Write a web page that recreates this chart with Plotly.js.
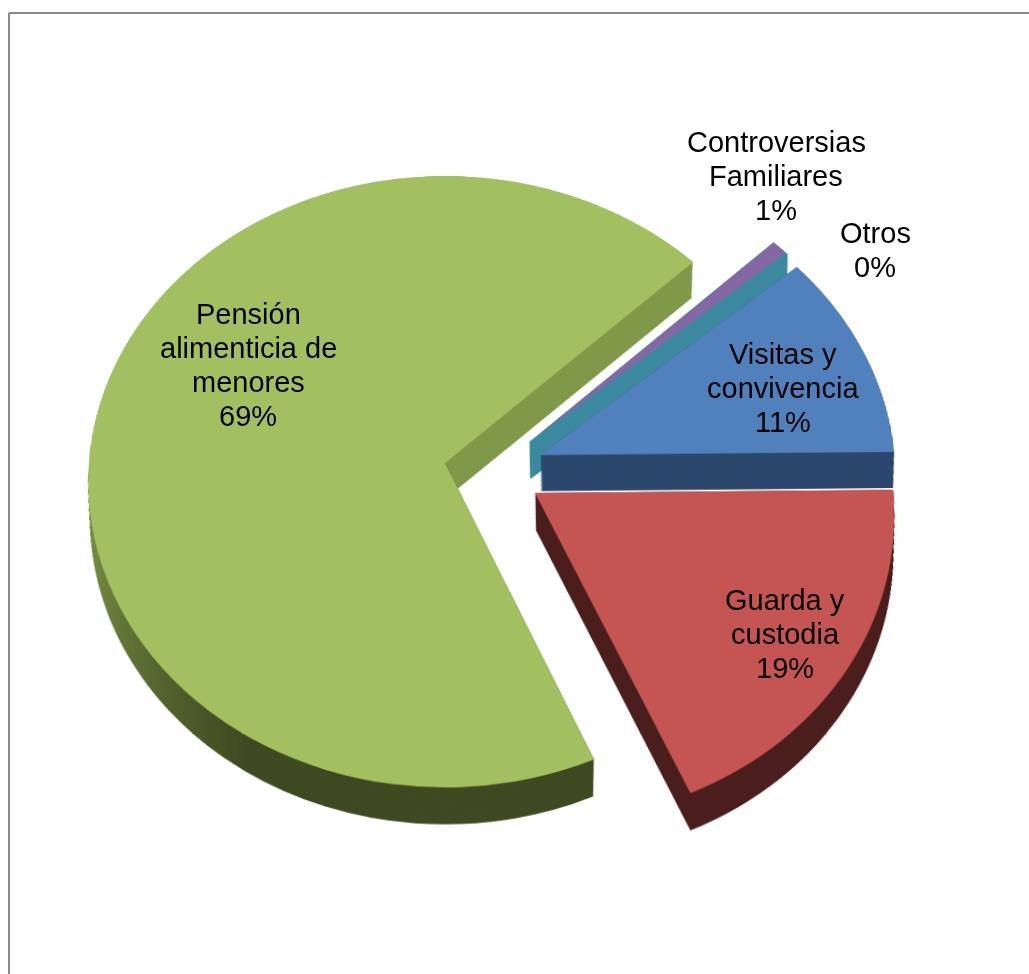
<!DOCTYPE html>
<html>
<head>
<meta charset="utf-8">
<script src="https://cdn.plot.ly/plotly-3.0.1.min.js"></script>
<style>
html,body{margin:0;padding:0;width:1029px;height:974px;overflow:hidden;background:#fff}
#stage{position:absolute;left:0;top:0;width:1029px;height:974px;overflow:hidden}
#pie{position:absolute;left:0;top:0}
#labels{position:absolute;left:0;top:0;pointer-events:none}
</style>
</head>
<body>
<div id="stage"><div id="pie"></div><div id="labels"></div></div>
<script>
// ---- data ----
var categories = ["Visitas y convivencia", "Guarda y custodia", "Pensión alimenticia de menores", "Controversias Familiares", "Otros"];
var values = [11, 18.7, 69.4, 0.8, 0.1];
var labelLines = [
  ["Visitas y", "convivencia", "11%"],
  ["Guarda y", "custodia", "19%"],
  ["Pensión", "alimenticia de", "menores", "69%"],
  ["Controversias", "Familiares", "1%"],
  ["Otros", "0%"]
];
// ---- styles / placement ----
var topColors  = ["#5181bd", "#c55552", "#a3c060", "#8467a4", "#3d8aa2"];
var wallColors = ["#2c486d", "#4c1f1f", "#3f4a22", "#3c8aa0", "#3c8aa0"];
var wallStroke = [0, 0, 0, 1.2, 1.2];
var apexX = [540, 535, 445, 530, 530];
var apexY = [455, 493, 463, 442, 442];
var radius = [355, 356, 356, 356, 356];
var labelX = [783, 785, 248, 776, 875];
var labelY = [354, 600, 314, 142, 233];
var drawOrder = [2, 3, 4, 0, 1];
var startAngle = 49.8;
var W = 1029, H = 1300, originX = 445, originY = 463;
var D = 3006, tilt = 31.2 * Math.PI / 180, wallDepth = 36, wallStep = 1.5;
var c = Math.cos(tilt), s = Math.sin(tilt);

function toPlane(X, Y) {
  var y = Y - originY;
  var yp = y * D / (c * D + y * s);
  var xp = (X - originX) * (D - yp * s) / D;
  return [originX + xp, originY + yp];
}
function pieTrace(vals, cols, rot, cx, cy, r, stroke) {
  var total = vals.reduce(function (a, b) { return a + b; }, 0);
  var lab = vals.map(function (v, i) { return "s" + i; });
  var lw = vals.map(function () { return stroke || 0; }).concat([0]);
  return {
    type: "pie", values: vals.concat([100 - total]), labels: lab.concat(["rest"]),
    marker: { colors: cols.concat(["rgba(0,0,0,0)"]), line: { width: lw, color: cols.concat(["rgba(0,0,0,0)"]) } },
    rotation: rot, direction: "clockwise", sort: false, textinfo: "none",
    hoverinfo: "skip", showlegend: false,
    domain: { x: [(cx - r) / W, (cx + r) / W], y: [1 - (cy + r) / H, 1 - (cy - r) / H] }
  };
}
function mix(a, b, t) {
  function ch(h, i) { return parseInt(h.substr(i, 2), 16); }
  var out = [1, 3, 5].map(function (i) { return Math.round(ch(a, i) + (ch(b, i) - ch(a, i)) * t); });
  return "rgb(" + out.join(",") + ")";
}
// starting angle of each slice
var starts = [], acc = startAngle;
values.forEach(function (v) { starts.push(acc); acc += v * 3.6; });

var traces = [];
drawOrder.forEach(function (i) {
  var p = toPlane(apexX[i], apexY[i]);
  var segVals = [values[i]], segCols = [wallColors[i]];
  if (i === 2) {
    // green wall: dark at the front, lighter around the left
    segVals = [15.5]; segCols = ["#3f4a22"];
    var n = 36;
    for (var k = 0; k < n; k++) { segVals.push(15 / n); segCols.push(mix("#3f4a22", "#80994a", (k + 1) / n)); }
    segVals.push(values[i] - 15.5 - 15); segCols.push("#80994a");
  }
  for (var d = wallDepth / c; d > 0; d -= wallStep) {
    var shrink = 1 - 0.012 * d / (wallDepth / c);
    traces.push(pieTrace(segVals, segCols, starts[i], p[0], p[1] + d, radius[i] * shrink, wallStroke[i]));
  }
  traces.push(pieTrace([values[i]], [topColors[i]], starts[i], p[0], p[1], radius[i], 0));
});

Plotly.newPlot("pie", traces, {
  width: W, height: H, margin: { l: 0, r: 0, t: 0, b: 0 },
  paper_bgcolor: "rgba(0,0,0,0)", plot_bgcolor: "rgba(0,0,0,0)", showlegend: false
}, { staticPlot: true, displayModeBar: false });
var pieDiv = document.getElementById("pie");
pieDiv.style.transformOrigin = originX + "px " + originY + "px";
pieDiv.style.transform = "perspective(" + D + "px) rotateX(" + (tilt * 180 / Math.PI) + "deg)";

var annotations = [];
labelLines.forEach(function (lines, i) {
  lines.forEach(function (t, j) {
    annotations.push({
      x: labelX[i], y: labelY[i] + j * 34, xref: "x", yref: "y", text: t, showarrow: false,
      xanchor: "center", yanchor: "middle",
      font: { family: "Liberation Sans, Arial, sans-serif", size: 29, color: "#000" }
    });
  });
});
Plotly.newPlot("labels", [], {
  width: 1029, height: 974, margin: { l: 0, r: 0, t: 0, b: 0 },
  paper_bgcolor: "rgba(0,0,0,0)", plot_bgcolor: "rgba(0,0,0,0)", showlegend: false,
  xaxis: { range: [0, 1029], visible: false, fixedrange: true },
  yaxis: { range: [974, 0], visible: false, fixedrange: true },
  annotations: annotations,
  shapes: [
    { type: "line", xref: "x", yref: "y", x0: 9, y0: 13, x1: 1029, y1: 13, line: { color: "#8a8a8a", width: 2 } },
    { type: "line", xref: "x", yref: "y", x0: 9, y0: 13, x1: 9, y1: 974, line: { color: "#8a8a8a", width: 2 } }
  ]
}, { staticPlot: true, displayModeBar: false });
</script>
</body>
</html>
